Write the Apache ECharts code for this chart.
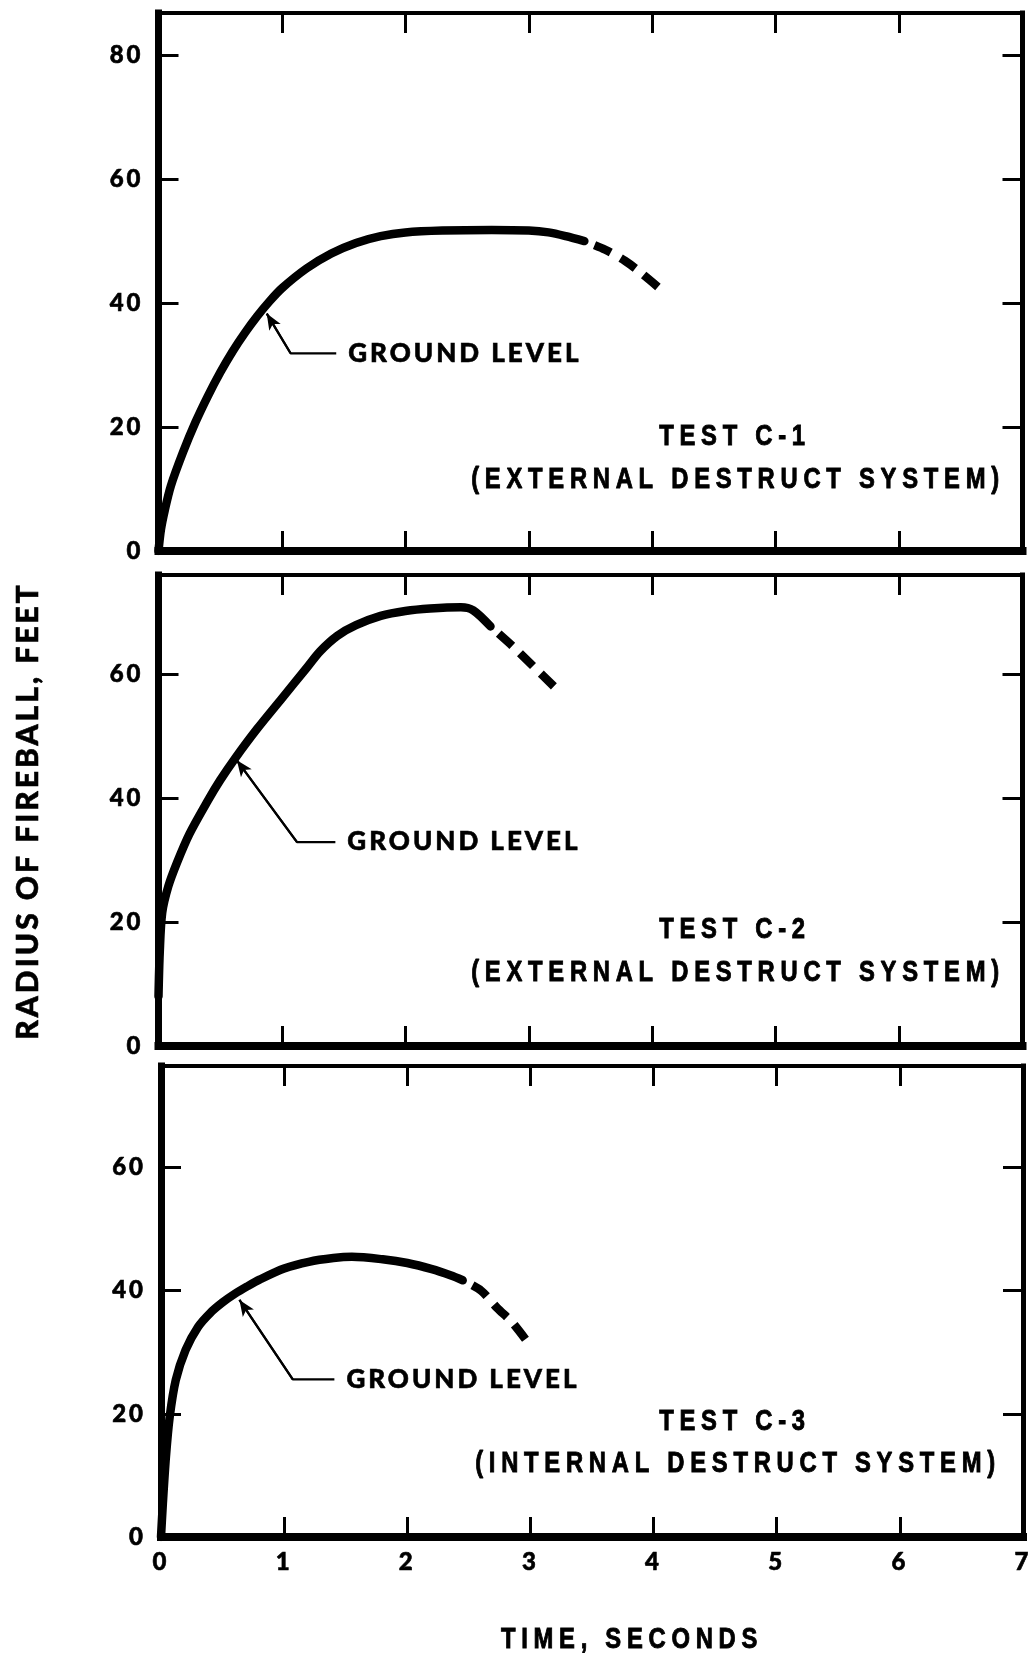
<!DOCTYPE html>
<html>
<head>
<meta charset="utf-8">
<script src="https://cdn.jsdelivr.net/npm/echarts@6/dist/echarts.min.js"></script>
<style>
  html, body { margin: 0; padding: 0; background: #fff; }
  #chart { width: 1034px; height: 1655px; }
</style>
</head>
<body>
<div id="chart"></div>
<script>
// ---- Axis ticks -------------------------------------------------------
const TIME_LABELS = [0, 1, 2, 3, 4, 5, 6, 7];          // seconds
const TIME_INNER_TICKS = [1, 2, 3, 4, 5, 6];
const RADIUS_LABELS_C1 = [0, 20, 40, 60, 80];            // feet
const RADIUS_LABELS_C2 = [0, 20, 40, 60];
const RADIUS_LABELS_C3 = [0, 20, 40, 60];
const RADIUS_MAX = [86.8, 76, 76.5];

// ---- Fireball radius vs time [seconds, feet] ---------------------------
const C1_MEASURED = [
  [0, 0], [0.02, 3.5], [0.05, 6.5], [0.1, 10.5], [0.2, 16], [0.3, 20.8],
  [0.4, 25], [0.5, 28.8], [0.6, 32.2], [0.7, 35.2], [0.8, 37.9], [0.9, 40.3],
  [1.0, 42.4], [1.2, 45.6], [1.4, 48], [1.6, 49.7], [1.8, 50.8], [2.0, 51.4],
  [2.3, 51.7], [2.7, 51.8], [3.0, 51.7], [3.16, 51.4], [3.3, 50.8], [3.45, 50.0]
];
const C1_ESTIMATED = [[3.45, 50.0], [3.62, 48.6], [3.78, 46.8], [3.92, 44.7], [4.1, 41.7]];

const C2_MEASURED = [
  [0, 8], [0.01, 15], [0.03, 21.5], [0.08, 25.8], [0.15, 29.6], [0.25, 34.2],
  [0.4, 39.6], [0.5, 42.9], [0.62, 46.4], [0.8, 51.2], [1.0, 56.1], [1.2, 61.0],
  [1.31, 63.7], [1.45, 66.2], [1.6, 67.9], [1.8, 69.4], [2.0, 70.2], [2.2, 70.6],
  [2.45, 70.8], [2.55, 70.3], [2.69, 67.7]
];
const C2_ESTIMATED = [[2.69, 67.7], [2.87, 64.5], [3.04, 61.2], [3.205, 58.0]];

const C3_MEASURED = [
  [0, 0], [0.015, 5.4], [0.04, 13], [0.07, 19.4], [0.12, 25.5], [0.2, 30.4],
  [0.3, 34.1], [0.4, 36.4], [0.5, 38.1], [0.6, 39.5], [0.7, 40.7], [0.8, 41.8],
  [1.0, 43.6], [1.2, 44.7], [1.4, 45.3], [1.55, 45.5], [1.8, 45.1], [2.0, 44.5],
  [2.2, 43.5], [2.35, 42.5], [2.45, 41.7]
];
const C3_ESTIMATED = [[2.45, 41.7], [2.6, 40.0], [2.73, 37.2], [2.85, 34.9], [2.964, 32.0]];

// Leader lines for the "ground level" callouts: [arrow tip, elbow, end]
const LEADER_C1 = [[0.877, 38.3], [1.07, 31.9], [1.44, 31.9]];
const LEADER_C2 = [[0.635, 46.1], [1.122, 32.9], [1.433, 32.9]];
const LEADER_C3 = [[0.637, 38.5], [1.07, 25.6], [1.408, 25.6]];

// ---- Texts --------------------------------------------------------------
const LEADER_TEXT = 'GROUND LEVEL';
const PANEL_TITLES = ['TEST C-1', 'TEST C-2', 'TEST C-3'];
const PANEL_SUBTITLES = ['(EXTERNAL DESTRUCT SYSTEM)', '(EXTERNAL DESTRUCT SYSTEM)', '(INTERNAL DESTRUCT SYSTEM)'];
const X_TITLE = 'TIME, SECONDS';
const Y_TITLE = 'RADIUS OF FIREBALL, FEET';

// ---- Styling -------------------------------------------------------------
const INK = '#000';
const FONT_GEO = "Lato, 'DejaVu Sans', sans-serif";
const FONT_CAPTION = "'Liberation Sans', Arial, sans-serif";
const CAPTION_SQUEEZE = 0.82;   // narrow the caption face horizontally

const GRIDS = [
  { left: 158.5, top: 13,   width: 864, height: 538 },
  { left: 158.5, top: 575,  width: 864, height: 471 },
  { left: 161,   top: 1066, width: 862, height: 471 }
];

const PANELS = [
  { measured: C1_MEASURED, estimated: C1_ESTIMATED, leader: LEADER_C1, labels: RADIUS_LABELS_C1 },
  { measured: C2_MEASURED, estimated: C2_ESTIMATED, leader: LEADER_C2, labels: RADIUS_LABELS_C2 },
  { measured: C3_MEASURED, estimated: C3_ESTIMATED, leader: LEADER_C3, labels: RADIUS_LABELS_C3 }
];

const tickStyle = { inside: true, length: 20, lineStyle: { color: INK, width: 3 } };
const heavyLabel = { color: INK, fontFamily: FONT_GEO, fontWeight: 900, textBorderColor: INK, textBorderWidth: 0.6 };

const xAxes = [], yAxes = [], series = [];

PANELS.forEach((p, i) => {
  const yTicks = p.labels.filter(v => v > 0);
  // bottom time axis
  xAxes.push({
    gridIndex: i, type: 'value', min: 0, max: 7, interval: 1, position: 'bottom',
    axisLine: { onZero: false, lineStyle: { color: INK, width: 8, cap: 'square' } },
    axisTick: Object.assign({ customValues: TIME_INNER_TICKS }, tickStyle),
    axisLabel: i === 2
      ? Object.assign({ show: true, customValues: TIME_LABELS, margin: 13, fontSize: 24 }, heavyLabel)
      : { show: false },
    splitLine: { show: false }
  });
  // top frame edge
  xAxes.push({
    gridIndex: i, type: 'value', min: 0, max: 7, interval: 1, position: 'top',
    axisLine: { onZero: false, lineStyle: { color: INK, width: 4, cap: 'square' } },
    axisTick: Object.assign({ customValues: TIME_INNER_TICKS }, tickStyle),
    axisLabel: { show: false },
    splitLine: { show: false }
  });
  // left radius axis
  yAxes.push({
    gridIndex: i, type: 'value', min: 0, max: RADIUS_MAX[i], interval: 20, position: 'left',
    axisLine: { onZero: false, lineStyle: { color: INK, width: 7, cap: 'square' } },
    axisTick: Object.assign({ customValues: yTicks }, tickStyle),
    axisLabel: Object.assign({ show: true, customValues: p.labels, margin: 15, fontSize: 24 }, heavyLabel),
    splitLine: { show: false }
  });
  // right frame edge
  yAxes.push({
    gridIndex: i, type: 'value', min: 0, max: RADIUS_MAX[i], interval: 20, position: 'right',
    axisLine: { onZero: false, lineStyle: { color: INK, width: 5, cap: 'square' } },
    axisTick: Object.assign({ customValues: yTicks }, tickStyle),
    axisLabel: { show: false },
    splitLine: { show: false }
  });

  const ax = { xAxisIndex: 2 * i, yAxisIndex: 2 * i };

  series.push(Object.assign({
    type: 'line', data: p.measured, symbol: 'none', smooth: 0.3,
    lineStyle: { color: INK, width: 8.5, cap: 'round', join: 'round' }, z: 5
  }, ax));
  series.push(Object.assign({
    type: 'line', data: p.estimated, symbol: 'none', smooth: 0.3,
    lineStyle: { color: INK, width: 8.5, type: [18, 11], dashOffset: 18, cap: 'butt', join: 'round' }, z: 5
  }, ax));
  series.push(Object.assign({
    type: 'line', data: p.leader, symbol: 'none',
    lineStyle: { color: INK, width: 2.2 }, z: 4,
    endLabel: Object.assign({ show: true, formatter: LEADER_TEXT, distance: 12, fontSize: 26 }, heavyLabel),
    markLine: {
      silent: true, animation: false, symbolSize: [10, 16],
      label: { show: false },
      lineStyle: { color: INK, width: 2.2, type: 'solid' },
      data: [[{ coord: p.leader[0], symbol: 'arrow' }, { coord: p.leader[1], symbol: 'none' }]]
    }
  }, ax));
});

// panel captions (narrowed face, drawn on their own layer)
function caption(text, x, y) {
  return {
    type: 'text', zlevel: 1, x: x, y: y, scaleX: CAPTION_SQUEEZE,
    style: { text: text, fill: INK, stroke: INK, lineWidth: 0.9,
             font: 'bold 29px ' + FONT_CAPTION, align: 'center', verticalAlign: 'middle' }
  };
}
const captionY = [[437, 480], [930, 973], [1422, 1464]];
const graphic = [];
PANEL_TITLES.forEach((t, i) => {
  graphic.push(caption(t, 735, captionY[i][0]));
  graphic.push(caption(PANEL_SUBTITLES[i], 738, captionY[i][1]));
});
graphic.push(caption(X_TITLE, 632, 1640));
graphic.push({
  type: 'text', x: 28, y: 811, rotation: Math.PI / 2,
  style: { text: Y_TITLE, fill: INK, stroke: INK, lineWidth: 0.6,
           font: '900 30px ' + FONT_GEO, align: 'center', verticalAlign: 'middle' }
});

const option = {
  backgroundColor: '#fff',
  animation: false,
  grid: GRIDS.map(g => Object.assign({ containLabel: false, outerBoundsMode: 'none' }, g)),
  xAxis: xAxes,
  yAxis: yAxes,
  series: series,
  graphic: graphic
};

const chart = echarts.init(document.getElementById('chart'), null, { renderer: 'canvas', width: 1034, height: 1655 });
// letter tracking for the lettering on each canvas layer
const painter = chart.getZr().painter;
function setTracking(zlevel, px) {
  const layer = painter.getLayer && painter.getLayer(zlevel);
  if (layer && layer.ctx) layer.ctx.letterSpacing = px + 'px';
}
setTracking(0, 3);
setTracking(1, 7);
chart.setOption(option);
</script>
</body>
</html>
